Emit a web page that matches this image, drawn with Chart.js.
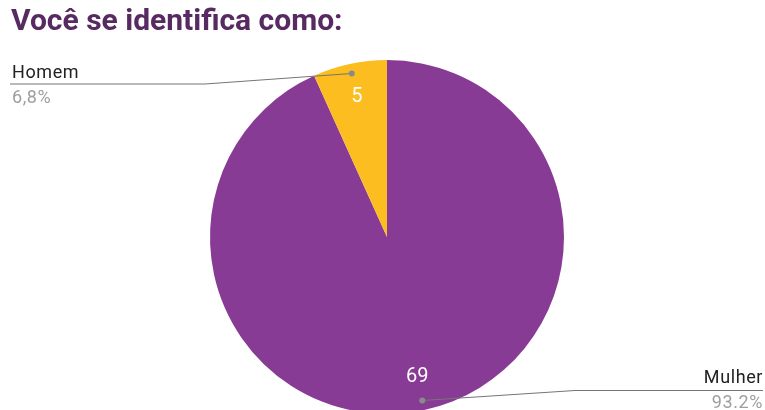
<!DOCTYPE html>
<html>
<head>
<meta charset="utf-8">
<script src="https://cdn.jsdelivr.net/npm/chart.js@4"></script>
<style>
  html, body { margin: 0; padding: 0; background: #fff; overflow: hidden; }
  #wrap { position: relative; width: 765px; height: 410px; overflow: hidden; }
  #title { position: absolute; left: 11px; top: 2px; font: bold 30px Roboto, sans-serif; color: #582a62; }
  #box { position: absolute; left: 0; top: 0; width: 765px; height: 474px; }
</style>
</head>
<body>
<div id="wrap">
  <div id="box"><canvas id="pieChart" width="765" height="474"></canvas></div>
  <div id="title">Você se identifica como:</div>
</div>
<script>
// answers to the question
const labels = ["Mulher", "Homem"];
const counts = [69, 5];
const percentText = ["93.2%", "6,8%"];
const colors = ["#883b94", "#fbbd1f"];

// draws counts inside slices and the leader-line labels outside
const sliceLabels = {
  id: "sliceLabels",
  afterDatasetsDraw(chart) {
    const ctx = chart.ctx;
    const arcs = chart.getDatasetMeta(0).data;
    ctx.save();
    arcs.forEach((arc, i) => {
      const mid = (arc.startAngle + arc.endAngle) / 2;
      const r = arc.outerRadius;
      // value inside slice
      ctx.fillStyle = "#ffffff";
      ctx.font = "20px Roboto, sans-serif";
      ctx.textAlign = "center";
      ctx.textBaseline = "middle";
      ctx.fillText(String(counts[i]), arc.x + Math.cos(mid) * r * 0.81, arc.y + Math.sin(mid) * r * 0.81);

      // leader line
      const dx = arc.x + Math.cos(mid) * r * 0.945;
      const dy = arc.y + Math.sin(mid) * r * 0.945;
      const left = Math.cos(mid) < 0;
      const lineY = left ? 84 : 390.5;
      const elbowX = left ? 205 : 575;
      const endX = left ? 10 : 763;
      ctx.strokeStyle = "#757575";
      ctx.lineWidth = 1;
      ctx.beginPath();
      ctx.moveTo(dx, dy);
      ctx.lineTo(elbowX, lineY);
      ctx.lineTo(endX, lineY);
      ctx.stroke();
      ctx.fillStyle = "#8a8a8a";
      ctx.beginPath();
      ctx.arc(dx, dy, 3, 0, Math.PI * 2);
      ctx.fill();

      // label text
      ctx.textBaseline = "alphabetic";
      ctx.textAlign = left ? "left" : "right";
      const tx = left ? 12 : 763;
      ctx.font = "18px Roboto, sans-serif";
      ctx.letterSpacing = "0.6px";
      ctx.fillStyle = "#222222";
      ctx.fillText(labels[i], tx, lineY - (left ? 6 : 8));
      ctx.fillStyle = "#9e9e9e";
      ctx.fillText(percentText[i], tx, lineY + (left ? 19 : 17.5));
      ctx.letterSpacing = "0px";
    });
    ctx.restore();
  }
};

new Chart(document.getElementById("pieChart").getContext("2d"), {
  type: "pie",
  data: {
    labels: labels,
    datasets: [{
      data: counts,
      backgroundColor: colors,
      borderWidth: 0
    }]
  },
  options: {
    responsive: false,
    animation: false,
    layout: { padding: { left: 210, right: 201, top: 60, bottom: 60 } },
    plugins: {
      legend: { display: false },
      tooltip: { enabled: false }
    }
  },
  plugins: [sliceLabels]
});
</script>
</body>
</html>
